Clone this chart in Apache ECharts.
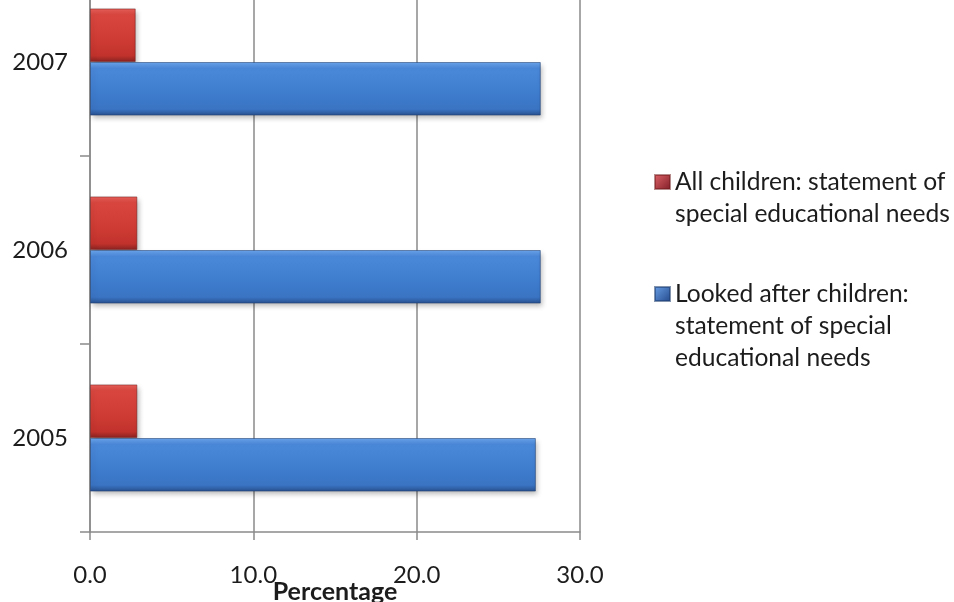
<!DOCTYPE html>
<html>
<head>
<meta charset="utf-8">
<script src="https://cdn.jsdelivr.net/npm/echarts@6/dist/echarts.min.js"></script>
<style>
  html, body { margin: 0; padding: 0; background: #ffffff; }
  #chart { width: 954px; height: 602px; }
</style>
</head>
<body>
<div id="chart"></div>
<script>
// Years shown on the category axis (bottom to top)
const years = ['2005', '2006', '2007'];

// Percentage of children with a statement of special educational needs
const allChildren = [2.9, 2.9, 2.8];
const lookedAfter = [27.3, 27.6, 27.6];

// Series names (legend text)
const nameAll = 'All children: statement of special educational needs';
const nameLooked = 'Looked after children: statement of special educational needs';

// Value axis ticks
const xMin = 0, xMax = 30, xStep = 10;

const FONT = 'Lato, "Liberation Sans", sans-serif';
const AXIS_GREY = '#8a8a8a';
const TEXT = '#1c1c1c';

const blueFill = new echarts.graphic.LinearGradient(0, 0, 0, 1, [
  { offset: 0, color: '#6ba6ee' },
  { offset: 0.12, color: '#4a88d9' },
  { offset: 0.55, color: '#3f7dcf' },
  { offset: 0.88, color: '#3a74c3' },
  { offset: 1, color: '#274f8c' }
]);
const redFill = new echarts.graphic.LinearGradient(0, 0, 0, 1, [
  { offset: 0, color: '#e8605a' },
  { offset: 0.12, color: '#d9463f' },
  { offset: 0.55, color: '#cf3c35' },
  { offset: 0.88, color: '#c2322c' },
  { offset: 1, color: '#862220' }
]);
const blueIcon = new echarts.graphic.LinearGradient(0, 0, 1, 1, [
  { offset: 0, color: '#6aa0e8' }, { offset: 1, color: '#23488a' }
]);
const redIcon = new echarts.graphic.LinearGradient(0, 0, 1, 1, [
  { offset: 0, color: '#e0646a' }, { offset: 1, color: '#7e1c26' }
]);

const barShadow = {
  shadowColor: 'rgba(0,0,0,0.28)',
  shadowBlur: 5,
  shadowOffsetX: 2,
  shadowOffsetY: 3
};

const chart = echarts.init(document.getElementById('chart'), null, { renderer: 'canvas' });

const legendText = { fontFamily: FONT, fontSize: 24.6, color: TEXT, lineHeight: 32 };

chart.setOption({
  animation: false,
  backgroundColor: '#ffffff',
  grid: {
    left: 90, right: 374, top: -32, bottom: 70,
    containLabel: false,
    outerBoundsMode: 'none'
  },
  xAxis: {
    type: 'value',
    min: xMin, max: xMax, interval: xStep,
    name: 'Percentage',
    nameLocation: 'middle',
    nameGap: 47,
    nameMoveOverlap: false,
    nameTextStyle: { fontFamily: FONT, fontSize: 25, fontWeight: 'bold', color: TEXT },
    axisLine: { show: true, lineStyle: { color: AXIS_GREY, width: 1.5 } },
    axisTick: { show: true, length: 8, lineStyle: { color: AXIS_GREY, width: 1.5 } },
    axisLabel: {
      margin: 31, fontFamily: FONT, fontSize: 24, color: TEXT,
      formatter: v => v.toFixed(1)
    },
    splitLine: { show: true, lineStyle: { color: AXIS_GREY, width: 1.5 } }
  },
  yAxis: {
    type: 'category',
    data: years,
    axisLine: { show: true, lineStyle: { color: AXIS_GREY, width: 1.5 } },
    axisTick: { show: true, length: 10, lineStyle: { color: AXIS_GREY, width: 1.5 } },
    axisLabel: { margin: 22, fontFamily: FONT, fontSize: 24, color: TEXT }
  },
  legend: [
    {
      data: [{ name: nameAll, icon: 'rect', itemStyle: { color: redIcon } }],
      orient: 'vertical', left: 654, top: 134, padding: 0,
      itemWidth: 15, itemHeight: 14, itemGap: 8,
      textStyle: legendText,
      formatter: () => '\nAll children: statement of\nspecial educational needs'
    },
    {
      data: [{ name: nameLooked, icon: 'rect', itemStyle: { color: blueIcon } }],
      orient: 'vertical', left: 654, top: 214, padding: 0,
      itemWidth: 15, itemHeight: 14, itemGap: 8,
      textStyle: legendText,
      formatter: () => '\n\nLooked after children:\nstatement of special\neducational needs'
    }
  ],
  series: [
    {
      name: nameAll,
      type: 'bar',
      data: allChildren,
      barGap: '0%',
      barCategoryGap: '43%',
      itemStyle: Object.assign({
        color: redFill,
        borderColor: 'rgba(110,25,25,0.5)',
        borderWidth: 1
      }, barShadow)
    },
    {
      name: nameLooked,
      type: 'bar',
      data: lookedAfter,
      barGap: '0%',
      barCategoryGap: '43%',
      itemStyle: Object.assign({
        color: blueFill,
        borderColor: 'rgba(30,60,110,0.55)',
        borderWidth: 1
      }, barShadow)
    }
  ]
});
</script>
</body>
</html>
